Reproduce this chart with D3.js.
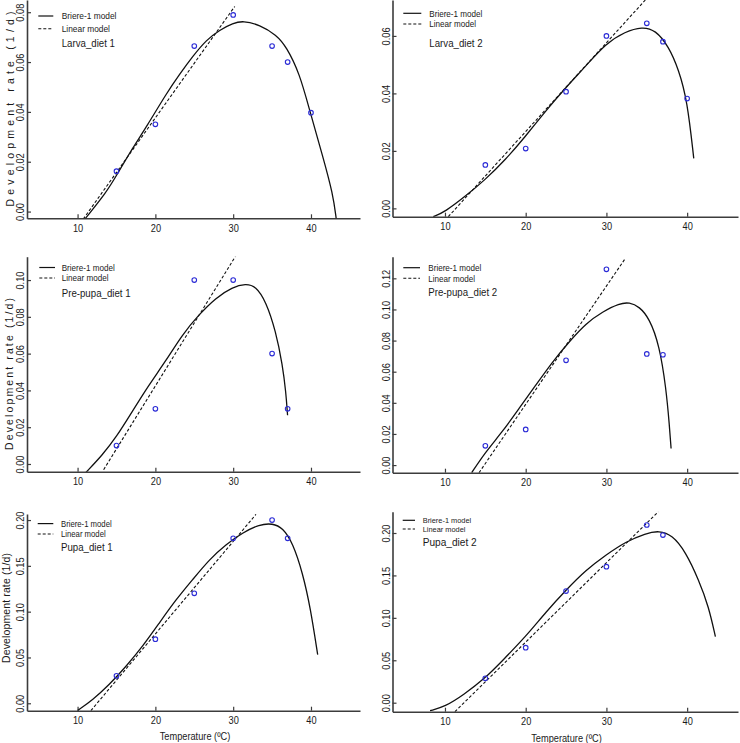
<!DOCTYPE html>
<html>
<head>
<meta charset="utf-8">
<script src="https://cdn.jsdelivr.net/npm/d3@7"></script>
<style>
  body { margin: 0; background: #fff; }
  text { font-family: "Liberation Sans", Arial, sans-serif; fill: #1a1a1a; }
</style>
</head>
<body>
<svg id="chart" width="740" height="743"></svg>
<script>
// observed rates (1/d) at each rearing temperature
const tempsLarva = [15, 20, 25, 30, 35, 37, 40];
const tempsOther = [15, 20, 25, 30, 35, 37];

const obsLarva1 = [0.0162, 0.0350, 0.0664, 0.0789, 0.0664, 0.0600, 0.0397];
const obsLarva2 = [0.0151, 0.0208, 0.0406, 0.0600, 0.0644, 0.0580, 0.0382];
const obsPrepupa1 = [0.010, 0.030, 0.100, 0.100, 0.060, 0.030];
const obsPrepupa2 = [0.0124, 0.0229, 0.0673, 0.1258, 0.0714, 0.0709];
const obsPupa1 = [0.030, 0.070, 0.120, 0.180, 0.200, 0.180];
const obsPupa2 = [0.0287, 0.0648, 0.1316, 0.1603, 0.2094, 0.1976];

// Briere-1 fitted curves as [temperature, rate]
const briereLarva1 = [[10.94, -0.003], [13.72, 0.0078], [15.0, 0.0145], [17.15, 0.0259], [18.86, 0.034],
  [21.42, 0.0474], [23.14, 0.0552], [24.85, 0.0625], [26.56, 0.0689], [28.27, 0.0729], [29.98, 0.0756],
  [31.27, 0.0766], [33.41, 0.0749], [35.55, 0.0709], [36.83, 0.0662], [38.54, 0.0554], [39.82, 0.0407],
  [41.54, 0.0219], [42.82, 0.0071], [43.25, -0.003]];
const briereLarva2 = [[8.55, -0.0029], [10, -0.0012], [12.48, 0.0041], [14.96, 0.0099], [17.45, 0.0168],
  [19.93, 0.0249], [22.41, 0.0337], [24.89, 0.0418], [27.38, 0.0493], [29.94, 0.0574], [32.34, 0.0615],
  [34.41, 0.0632], [36.07, 0.0621], [37.72, 0.0563], [38.96, 0.0482], [40.0, 0.0377], [40.82, 0.0174]];
const brierePrepupa1 = [[11.07, -0.0046], [13.14, 0.0046], [14.98, 0.0146], [17.0, 0.0283], [19.15, 0.0429],
  [21.3, 0.0557], [23.45, 0.0703], [25.6, 0.0812], [27.75, 0.0903], [29.9, 0.0962], [31.62, 0.098],
  [32.9, 0.0967], [34.2, 0.0885], [35.48, 0.0721], [36.34, 0.0538], [36.77, 0.0392], [36.99, 0.0265]];
const brierePrepupa2 = [[13.31, -0.0049], [15.05, 0.0086], [17.12, 0.0214], [19.18, 0.0364], [21.25, 0.0514],
  [23.32, 0.0664], [25.39, 0.0793], [27.46, 0.0911], [29.53, 0.0986], [31.6, 0.1039], [32.84, 0.1046],
  [34.08, 0.1018], [35.32, 0.0943], [36.56, 0.0771], [37.39, 0.0493], [37.8, 0.0257], [38.01, 0.0107]];
const brierePupa1 = [[10, -0.008], [11.93, 0.0036], [14.07, 0.0201], [16.22, 0.0401], [18.36, 0.062],
  [20.5, 0.0876], [22.64, 0.1131], [24.79, 0.135], [26.93, 0.1569], [29.07, 0.1734], [31.22, 0.1861],
  [33.36, 0.1953], [35.07, 0.1964], [36.36, 0.1916], [37.65, 0.1752], [38.93, 0.1423], [39.93, 0.104],
  [40.86, 0.053]];
const brierePupa2 = [[8.15, -0.0094], [10, -0.0047], [12.26, 0.009], [14.97, 0.0287], [17.19, 0.0503],
  [19.99, 0.0778], [22.54, 0.1073], [25.0, 0.1328], [27.47, 0.1564], [29.93, 0.1741], [32.4, 0.1898],
  [34.87, 0.1996], [36.51, 0.2028], [38.15, 0.1976], [39.8, 0.178], [41.44, 0.1446], [42.67, 0.1132],
  [43.5, 0.0778]];

// linear model end points
const linearLarva1 = [[10.73, -0.003], [30.2, 0.0823]];
const linearLarva2 = [[10.41, -0.0029], [34.82, 0.0725]];
const linearPrepupa1 = [[13.35, -0.0031], [30.41, 0.1137]];
const linearPrepupa2 = [[14.22, -0.0049], [32.34, 0.1328]];
const linearPupa1 = [[11.71, -0.008], [32.93, 0.2062]];
const linearPupa2 = [[11.23, -0.0106], [36.43, 0.2251]];

const titles = ["Larva_diet 1", "Larva_diet 2", "Pre-pupa_diet 1", "Pre-pupa_diet 2", "Pupa_diet 1", "Pupa_diet 2"];
const legendLabels = ["Briere-1 model", "Linear model"];
const xTicks = [10, 20, 30, 40];
const yTicks = [
  [0, 0.02, 0.04, 0.06, 0.08],
  [0, 0.02, 0.04, 0.06],
  [0, 0.02, 0.04, 0.06, 0.08, 0.10],
  [0, 0.02, 0.04, 0.06, 0.08, 0.10, 0.12],
  [0, 0.05, 0.10, 0.15, 0.20],
  [0, 0.05, 0.10, 0.15, 0.20]
];
const xDomain = [3.5, 46.3];
const yDomains = [
  [-0.0027, 0.0849], [-0.0029, 0.0725], [-0.0042, 0.1127],
  [-0.0049, 0.1339], [-0.0081, 0.2066], [-0.0106, 0.2251]
];

const panels = [
  { temps: tempsLarva, obs: obsLarva1, briere: briereLarva1, linear: linearLarva1 },
  { temps: tempsLarva, obs: obsLarva2, briere: briereLarva2, linear: linearLarva2 },
  { temps: tempsOther, obs: obsPrepupa1, briere: brierePrepupa1, linear: linearPrepupa1 },
  { temps: tempsOther, obs: obsPrepupa2, briere: brierePrepupa2, linear: linearPrepupa2 },
  { temps: tempsOther, obs: obsPupa1, briere: brierePupa1, linear: linearPupa1 },
  { temps: tempsOther, obs: obsPupa2, briere: brierePupa2, linear: linearPupa2 }
];

// pixel boxes and legend placement
const layout = [
  { left: 27, right: 360, top: 0, bottom: 218.3, lx: 38.3, lw: 15, tx: 61.7, ly1: 16, ly2: 28.8, ty: 43.3, lfs: 9.5, lsq: 0.88, tfs: 11 },
  { left: 392.5, right: 738, top: 0, bottom: 216.7, lx: 403.3, lw: 18, tx: 429.3, ly1: 13.3, ly2: 24, ty: 43.3, lfs: 9.2, lsq: 0.88, tfs: 11 },
  { left: 27, right: 360, top: 256.7, bottom: 471.7, lx: 39.3, lw: 15.7, tx: 61.7, ly1: 267.5, ly2: 278, ty: 293.3, lfs: 9.2, lsq: 0.88, tfs: 11 },
  { left: 392.5, right: 738, top: 256.7, bottom: 472.7, lx: 403.3, lw: 16.7, tx: 428.3, ly1: 267.7, ly2: 278.3, ty: 292.3, lfs: 9.2, lsq: 0.88, tfs: 11 },
  { left: 27, right: 360, top: 514, bottom: 710.7, lx: 37.7, lw: 15.6, tx: 61, ly1: 523.6, ly2: 534, ty: 547.5, lfs: 8.8, lsq: 0.88, tfs: 11 },
  { left: 392.5, right: 738, top: 511.7, bottom: 711.7, lx: 402.7, lw: 12.3, tx: 422.7, ly1: 520.3, ly2: 529, ty: 541.5, lfs: 7.4, lsq: 1.0, tfs: 11.5 }
];
const yLabels = [
  { x: 10, y: 109, len: 195 },
  null,
  { x: 9.3, y: 374, len: 152 },
  null,
  { x: 6, y: 608, len: 110 },
  null
];
const xLabels = [null, null, null, null, { x: 195, y: 736.7 }, { x: 566.5, y: 738.3 }];

const axisColor = "#3c3c3c";
const pointColor = "#2b2bd6";
const squeeze = 0.88; // the source font is a narrow face

const svg = d3.select("#chart");
svg.append("rect").attr("width", 740).attr("height", 743).attr("fill", "#fff");

panels.forEach((p, i) => {
  const L = layout[i];
  const x = d3.scaleLinear().domain(xDomain).range([L.left, L.right]);
  const y = d3.scaleLinear().domain(yDomains[i]).range([L.bottom, L.top]);
  const g = svg.append("g");

  g.append("clipPath").attr("id", "clip" + i)
    .append("rect")
    .attr("x", L.left).attr("y", L.top)
    .attr("width", L.right - L.left).attr("height", L.bottom - L.top);

  // x axis, ticks pointing inward
  const gx = g.append("g")
    .attr("transform", `translate(0,${L.bottom})`)
    .call(d3.axisBottom(x).tickValues(xTicks).tickSizeInner(-4).tickSizeOuter(0).tickPadding(6).tickFormat(d3.format("d")));
  gx.selectAll("text")
    .attr("font-size", 10.5)
    .attr("transform", `scale(${squeeze},1)`);

  const gy = g.append("g")
    .attr("transform", `translate(${L.left},0)`)
    .call(d3.axisLeft(y).tickValues(yTicks[i]).tickSizeInner(-4).tickSizeOuter(0).tickFormat(d3.format(".2f")));
  gy.selectAll("text")
    .attr("x", 0).attr("y", 0).attr("dy", "0.35em")
    .attr("text-anchor", "middle")
    .attr("transform", `translate(-6.5,0) rotate(-90) scale(${squeeze},1)`)
    .attr("font-size", 10.5);

  [gx, gy].forEach(a => {
    a.attr("font-family", null);
    a.select(".domain").attr("stroke", axisColor).attr("stroke-width", 1.6);
    a.selectAll(".tick line").attr("stroke", axisColor).attr("stroke-width", 1.2);
    a.selectAll("text").attr("fill", "#1a1a1a");
  });

  const line = d3.line()
    .x(d => x(d[0]))
    .y(d => y(d[1]))
    .curve(d3.curveBasis);

  const plot = g.append("g").attr("clip-path", `url(#clip${i})`);

  plot.append("path")
    .datum(p.linear)
    .attr("d", line)
    .attr("fill", "none")
    .attr("stroke", "#111")
    .attr("stroke-width", 1.1)
    .attr("stroke-dasharray", "3,2");

  plot.append("path")
    .datum(p.briere)
    .attr("d", line)
    .attr("fill", "none")
    .attr("stroke", "#111")
    .attr("stroke-width", 1.3);

  g.selectAll("circle.obs")
    .data(p.obs.map((v, k) => [p.temps[k], v]))
    .enter()
    .append("circle")
    .attr("class", "obs")
    .attr("cx", d => x(d[0]))
    .attr("cy", d => y(d[1]))
    .attr("r", 2.3)
    .attr("fill", "none")
    .attr("stroke", pointColor)
    .attr("stroke-width", 1.1);

  // legend
  g.append("line")
    .attr("x1", L.lx).attr("x2", L.lx + L.lw)
    .attr("y1", L.ly1).attr("y2", L.ly1)
    .attr("stroke", "#111").attr("stroke-width", 1.2);
  g.append("line")
    .attr("x1", L.lx).attr("x2", L.lx + L.lw)
    .attr("y1", L.ly2).attr("y2", L.ly2)
    .attr("stroke", "#111").attr("stroke-width", 1.1)
    .attr("stroke-dasharray", "3,2");
  g.selectAll("text.leg")
    .data(legendLabels)
    .enter()
    .append("text")
    .attr("class", "leg")
    .attr("transform", (d, k) => `translate(${L.tx},${k === 0 ? L.ly1 : L.ly2}) scale(${L.lsq},1)`)
    .attr("dy", "0.35em")
    .attr("font-size", L.lfs)
    .text(d => d);
  g.append("text")
    .attr("transform", `translate(${L.tx},${L.ty}) scale(${squeeze},1)`)
    .attr("dy", "0.35em")
    .attr("font-size", L.tfs)
    .text(titles[i]);

  if (yLabels[i]) {
    const yl = yLabels[i];
    g.append("text")
      .attr("transform", `translate(${yl.x},${yl.y}) rotate(-90)`)
      .attr("text-anchor", "middle")
      .attr("dy", "0.35em")
      .attr("font-size", 10.5)
      .attr("textLength", yl.len)
      .attr("lengthAdjust", "spacing")
      .text("Development rate (1/d)");
  }
  if (xLabels[i]) {
    g.append("text")
      .attr("transform", `translate(${xLabels[i].x},${xLabels[i].y}) scale(${squeeze},1)`)
      .attr("dy", "0.35em")
      .attr("text-anchor", "middle")
      .attr("font-size", 10.5)
      .text("Temperature (ºC)");
  }
});
</script>
</body>
</html>
